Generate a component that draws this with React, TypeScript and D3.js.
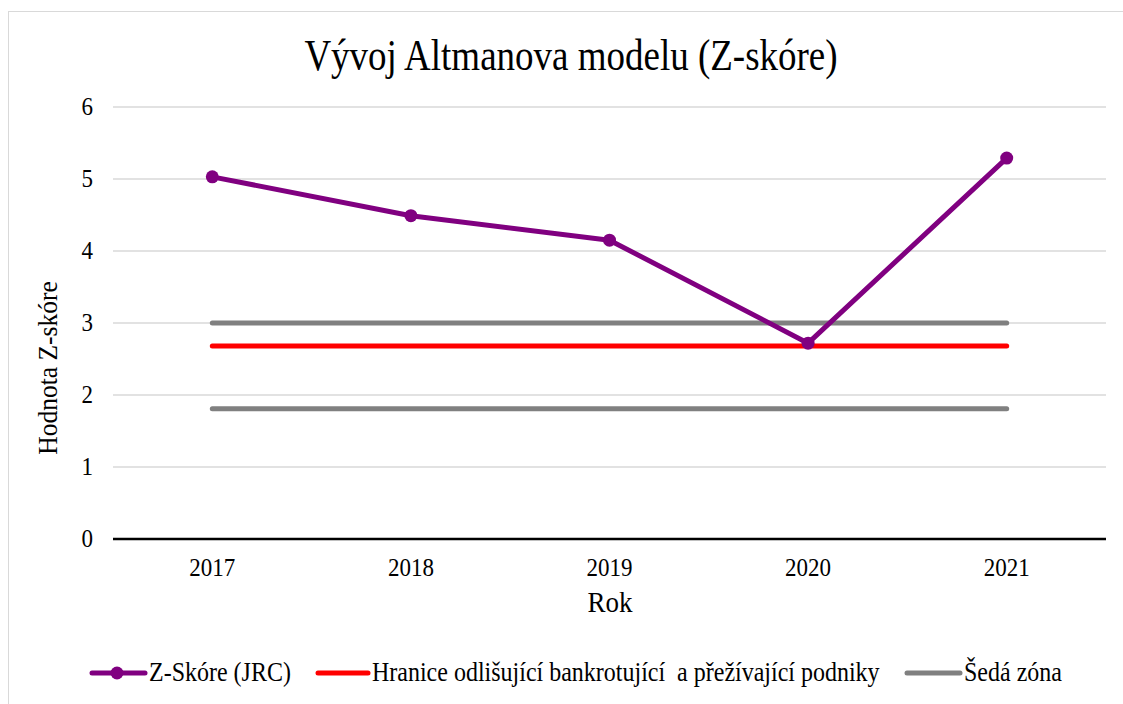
import React from "react";
import * as d3 from "d3";

const years = ["2017", "2018", "2019", "2020", "2021"];
const zScore = [5.03, 4.49, 4.15, 2.72, 5.29];
const boundary = [2.68, 2.68, 2.68, 2.68, 2.68];
const greyUpper = [3.0, 3.0, 3.0, 3.0, 3.0];
const greyLower = [1.81, 1.81, 1.81, 1.81, 1.81];
const yTicks = [0, 1, 2, 3, 4, 5, 6];

const W = 1123;
const H = 704;
const font = "'Liberation Serif', 'Times New Roman', serif";

// text is a little stretched vertically in the original
const Txt = ({ x, y, size, sy = 1.12, anchor = "start", children }: any) => (
  <text
    transform={`translate(${x}, ${y}) scale(1, ${sy})`}
    textAnchor={anchor}
    fontFamily={font}
    fontSize={size}
    fill="#000"
    style={{ whiteSpace: "pre" }}
  >
    {children}
  </text>
);

const App = () => {
  const x = d3.scaleBand().domain(years).range([113, 1106]);
  const y = d3.scaleLinear().domain([0, 6]).range([539, 107]);
  const cx = (d: string) => (x(d) as number) + x.bandwidth() / 2;

  const line = d3
    .line<number>()
    .x((_, i) => cx(years[i]))
    .y((d) => y(d));

  return (
    <svg
      width={W}
      height={H}
      style={{ position: "absolute", left: 0, top: 0, background: "#fff" }}
    >
      <rect x={8.5} y={11.5} width={W} height={H} fill="#fff" stroke="#d9d9d9" />
      <Txt x={571} y={70} size={37} sy={1.2} anchor="middle">
        Vývoj Altmanova modelu (Z-skóre)
      </Txt>

      {yTicks.map((t) => (
        <g key={t}>
          {t > 0 && (
            <line x1={113} x2={1106} y1={y(t)} y2={y(t)} stroke="#d9d9d9" strokeWidth={1.5} />
          )}
          <Txt x={93} y={y(t) + 8} size={23} sy={1.05} anchor="end">
            {t}
          </Txt>
        </g>
      ))}
      <line x1={113} x2={1106} y1={y(0)} y2={y(0)} stroke="#000" strokeWidth={2.5} />

      {years.map((yr) => (
        <Txt key={yr} x={cx(yr)} y={576} size={23} sy={1.05} anchor="middle">
          {yr}
        </Txt>
      ))}
      <Txt x={610} y={612} size={27} sy={1.1} anchor="middle">
        Rok
      </Txt>
      <text
        transform={`translate(57, 368) rotate(-90) scale(1, 1.1)`}
        textAnchor="middle"
        fontFamily={font}
        fontSize={25.5}
        fill="#000"
      >
        Hodnota Z-skóre
      </text>

      <path d={line(greyUpper) || ""} fill="none" stroke="#808080" strokeWidth={5} strokeLinecap="round" />
      <path d={line(greyLower) || ""} fill="none" stroke="#808080" strokeWidth={5} strokeLinecap="round" />
      <path d={line(boundary) || ""} fill="none" stroke="#ff0000" strokeWidth={5} strokeLinecap="round" />
      <path d={line(zScore) || ""} fill="none" stroke="#800080" strokeWidth={5} strokeLinejoin="round" />
      {zScore.map((v, i) => (
        <circle key={i} cx={cx(years[i])} cy={y(v)} r={6.5} fill="#800080" />
      ))}

      <g>
        <line x1={92} x2={145} y1={673} y2={673} stroke="#800080" strokeWidth={5} strokeLinecap="round" />
        <circle cx={117} cy={673} r={6.5} fill="#800080" />
        <Txt x={149} y={681} size={24}>Z-Skóre (JRC)</Txt>
        <line x1={318} x2={368} y1={673} y2={673} stroke="#ff0000" strokeWidth={5} strokeLinecap="round" />
        <Txt x={372} y={681} size={24}>Hranice odlišující bankrotující  a přežívající podniky</Txt>
        <line x1={907} x2={960} y1={673} y2={673} stroke="#808080" strokeWidth={5} strokeLinecap="round" />
        <Txt x={964} y={681} size={24}>Šedá zóna</Txt>
      </g>
    </svg>
  );
};

export default App;
